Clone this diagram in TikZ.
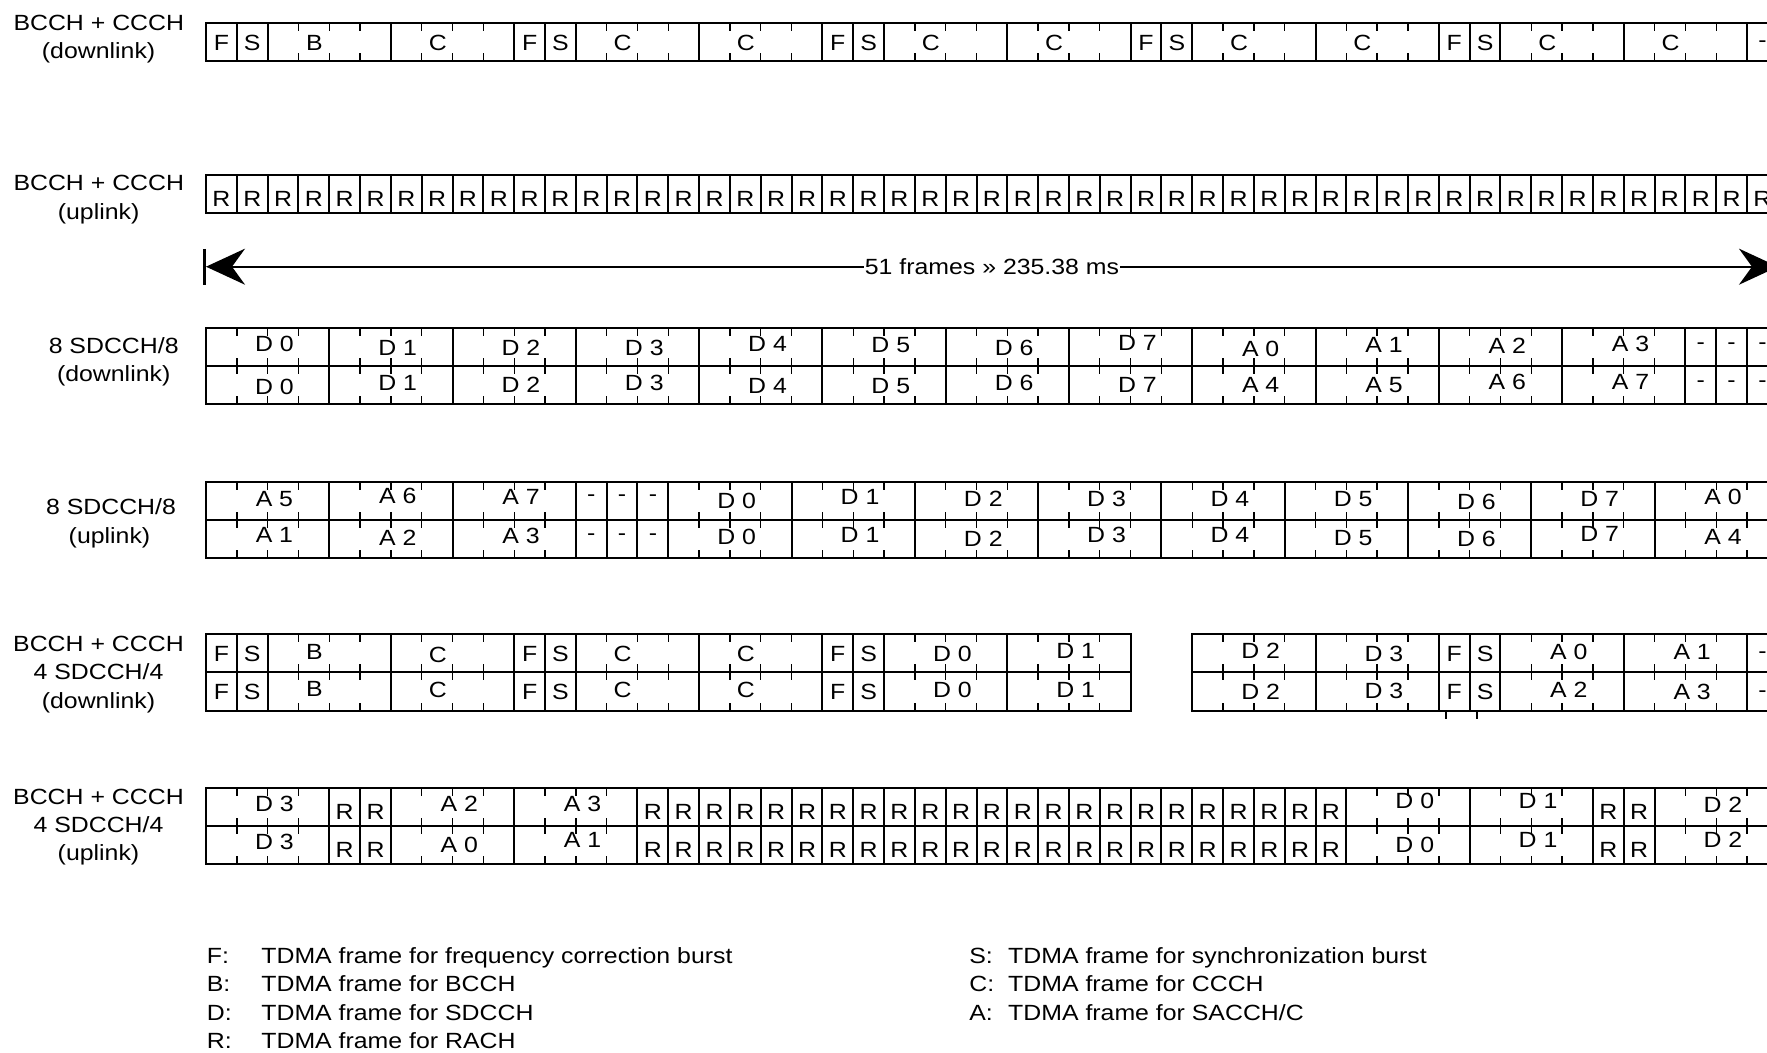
\documentclass[tikz,border=0pt]{standalone}
\usepackage{fontspec}
\setmainfont{Liberation Sans}
\usetikzlibrary{arrows.meta}
\newcounter{lbl}
\newcommand\hs[1]{\scalebox{1.13}[1]{#1}}
\def\frX{206}
\def\frW{30.82}
% single frame cell: top, bottom, frame, label, dy
\newcommand\cel[5]{%
  \draw[frm] ({\frX+(#3)*\frW},#1) -- ({\frX+(#3)*\frW},#2)
             ({\frX+(#3+1)*\frW},#1) -- ({\frX+(#3+1)*\frW},#2);
  \stepcounter{lbl}%
  \node[lab] (L\arabic{lbl}) at ({\frX+(#3+0.5)*\frW},{(#1+#2)/2+7.9+(#5)}) {\hs{#4}};}
% four-frame block: top, bottom, start, label, label pos, dy
\newcommand\blk[6]{%
  \draw[frm] ({\frX+(#3)*\frW},#1) -- ({\frX+(#3)*\frW},#2)
             ({\frX+(#3+4)*\frW},#1) -- ({\frX+(#3+4)*\frW},#2);
  \foreach \k in {1,2,3}{%
    \draw[tick] ({\frX+(#3+\k)*\frW},#1) -- ++(0,8)
                ({\frX+(#3+\k)*\frW},#2) -- ++(0,-8);}
  \stepcounter{lbl}%
  \node[lab] (L\arabic{lbl}) at ({\frX+(#3+#5)*\frW},{(#1+#2)/2+7.9+(#6)}) {\hs{#4}};}
\newcommand\bl[5]{\blk{#1}{#2}{#3}{#4}{2.22}{#5}}
\newcommand\bc[5]{\blk{#1}{#2}{#3}{#4}{1.52}{#5}}
\begin{document}
\begin{tikzpicture}[x=0.5pt,y=-0.5pt,
  frm/.style={line width=1pt},
  tick/.style={line width=0.7pt},
  lab/.style={anchor=base,inner sep=0pt,font=\fontsize{11}{13}\selectfont},
  leg/.style={anchor=base west,inner sep=0pt,font=\fontsize{11}{13}\selectfont}]
\useasboundingbox (0,0) rectangle (1767,1053);
\fill[white] (0,0) rectangle (1767,1053);
\clip (0,0) rectangle (1767,1053);

% ---------- left labels ----------
\node[lab] (t1a) at (98.8,30.7) {\hs{BCCH + CCCH}};
\node[lab] (t1b) at (98.6,59) {\hs{(downlink)}};
\node[lab] (t2a) at (98.8,191) {\hs{BCCH + CCCH}};
\node[lab] (t2b) at (98.6,219.3) {\hs{(uplink)}};
\node[lab] (t3a) at (113.7,353.3) {\hs{8 SDCCH/8}};
\node[lab] (t3b) at (113.7,381.6) {\hs{(downlink)}};
\node[lab] (t4a) at (111,515) {\hs{8 SDCCH/8}};
\node[lab] (t4b) at (109.5,543.3) {\hs{(uplink)}};
\node[lab] (t5a) at (98.5,651.5) {\hs{BCCH + CCCH}};
\node[lab] (t5b) at (98.5,679.8) {\hs{4 SDCCH/4}};
\node[lab] (t5c) at (98.5,708.1) {\hs{(downlink)}};
\node[lab] (t6a) at (98.5,804) {\hs{BCCH + CCCH}};
\node[lab] (t6b) at (98.5,832.3) {\hs{4 SDCCH/4}};
\node[lab] (t6c) at (98.5,860.6) {\hs{(uplink)}};

% ---------- row 1 ----------
\draw[frm] (\frX,23.5) rectangle ({\frX+51*\frW},61.5);
\cel{23.5}{61.5}{0}{F}{0}\cel{23.5}{61.5}{1}{S}{0}
\bc{23.5}{61.5}{2}{B}{0}\bc{23.5}{61.5}{6}{C}{0}
\foreach \g in {10,20,30,40}{%
  \cel{23.5}{61.5}{\g}{F}{0}\cel{23.5}{61.5}{\g+1}{S}{0}
  \bc{23.5}{61.5}{\g+2}{C}{0}\bc{23.5}{61.5}{\g+6}{C}{0}}
\cel{23.5}{61.5}{50}{-}{-3}

% ---------- row 2 ----------
\draw[frm] (\frX,175.5) rectangle ({\frX+51*\frW},213.5);
\foreach \f in {0,...,50}{\cel{175.5}{213.5}{\f}{R}{4}}

% ---------- arrow ----------
\coordinate (aL) at (206,266.7);
\coordinate (aR) at (1778,266.7);
\coordinate (bT) at (204,249);
\coordinate (bB) at (204,285);
\draw[line width=1pt,>={Stealth[length=19.5pt,width=18pt,inset=6.5pt]},<->] (aL) -- (aR);
\draw[line width=1.5pt] (bT) -- (bB);
\node[fill=white,inner xsep=0.5pt,inner ysep=0pt,font=\fontsize{11}{13}\selectfont] (arr) at (992,267) {\hs{51 frames » 235.38 ms}};

% ---------- row 3 ----------
\draw[frm] (\frX,328.5) rectangle ({\frX+51*\frW},404);
\draw[frm] (\frX,366.3) -- ({\frX+51*\frW},366.3);
\foreach \i/\dy in {0/-3.4,1/0.6,2/0.6,3/0,4/-4,5/-2.4,6/0,7/-5}{\bl{328.5}{366.3}{4*\i}{D \i}{\dy}}
\foreach \i/\dy in {0/1,1/-2.4,2/-1.7,3/-4}{\bl{328.5}{366.3}{32+4*\i}{A \i}{\dy}}
\foreach \f in {48,49,50}{\cel{328.5}{366.3}{\f}{-}{-6}}
\foreach \i/\dy in {0/1,1/-2.7,2/-1,3/-2.7,4/0,5/0,6/-3,7/-1}{\bl{366.3}{404}{4*\i}{D \i}{\dy}}
\foreach \i/\dy in {4/-1,5/-1,6/-4,7/-4}{\bl{366.3}{404}{16+4*\i}{A \i}{\dy}}
\foreach \f in {48,49,50}{\cel{366.3}{404}{\f}{-}{-6}}

% ---------- row 4 ----------
\draw[frm] (\frX,482) rectangle ({\frX+51*\frW},558);
\draw[frm] (\frX,520) -- ({\frX+51*\frW},520);
\bl{482}{520}{0}{A 5}{-2}\bl{482}{520}{4}{A 6}{-5}\bl{482}{520}{8}{A 7}{-4}
\foreach \f in {12,13,14}{\cel{482}{520}{\f}{-}{-7}}
\foreach \i/\dy in {0/0,1/-4.3,2/-2,3/-2,4/-2.7,5/-2.7,6/0.7,7/-2.7}{\bl{482}{520}{15+4*\i}{D \i}{\dy}}
\bl{482}{520}{47}{A 0}{-4.3}
\bl{520}{558}{0}{A 1}{-4}\bl{520}{558}{4}{A 2}{-1.5}\bl{520}{558}{8}{A 3}{-3}
\foreach \f in {12,13,14}{\cel{520}{558}{\f}{-}{-6.5}}
\foreach \i/\dy in {0/-2,1/-4,2/-0.7,3/-4,4/-4.3,5/-1.3,6/0,7/-5}{\bl{520}{558}{15+4*\i}{D \i}{\dy}}
\bl{520}{558}{47}{A 4}{-2.3}

% ---------- row 5 ----------
\draw[frm] (\frX,634) rectangle ({\frX+30*\frW},710.5);
\draw[frm] (\frX,672.3) -- ({\frX+30*\frW},672.3);
\draw[frm] ({\frX+32*\frW},634) rectangle ({\frX+51*\frW},710.5);
\draw[frm] ({\frX+32*\frW},672.3) -- ({\frX+51*\frW},672.3);
% upper
\cel{634}{672.3}{0}{F}{0}\cel{634}{672.3}{1}{S}{0}
\bc{634}{672.3}{2}{B}{-2}\bc{634}{672.3}{6}{C}{1}
\cel{634}{672.3}{10}{F}{0}\cel{634}{672.3}{11}{S}{0}
\bc{634}{672.3}{12}{C}{0}\bc{634}{672.3}{16}{C}{0}
\cel{634}{672.3}{20}{F}{0}\cel{634}{672.3}{21}{S}{0}
\bl{634}{672.3}{22}{D 0}{0}\bl{634}{672.3}{26}{D 1}{-3}
\bl{634}{672.3}{32}{D 2}{-3}\bl{634}{672.3}{36}{D 3}{0}
\cel{634}{672.3}{40}{F}{0}\cel{634}{672.3}{41}{S}{0}
\bl{634}{672.3}{42}{A 0}{-2}\bl{634}{672.3}{46}{A 1}{-2}
\cel{634}{672.3}{50}{-}{-2.5}
% lower
\cel{672.3}{710.5}{0}{F}{0}\cel{672.3}{710.5}{1}{S}{0}
\bc{672.3}{710.5}{2}{B}{-3}\bc{672.3}{710.5}{6}{C}{-2}
\cel{672.3}{710.5}{10}{F}{0}\cel{672.3}{710.5}{11}{S}{0}
\bc{672.3}{710.5}{12}{C}{-2}\bc{672.3}{710.5}{16}{C}{-2}
\cel{672.3}{710.5}{20}{F}{0}\cel{672.3}{710.5}{21}{S}{0}
\bl{672.3}{710.5}{22}{D 0}{-2}\bl{672.3}{710.5}{26}{D 1}{-2}
\bl{672.3}{710.5}{32}{D 2}{0}\bl{672.3}{710.5}{36}{D 3}{-1}
\cel{672.3}{710.5}{40}{F}{0}\cel{672.3}{710.5}{41}{S}{0}
\bl{672.3}{710.5}{42}{A 2}{-2}\bl{672.3}{710.5}{46}{A 3}{0}
\cel{672.3}{710.5}{50}{-}{-2}
\draw[tick] (1446,710.5) -- (1446,719) (1477,710.5) -- (1477,719);

% ---------- row 6 ----------
\draw[frm] (\frX,787.5) rectangle ({\frX+51*\frW},863.8);
\draw[frm] (\frX,825.8) -- ({\frX+51*\frW},825.8);
% upper
\bl{787.5}{825.8}{0}{D 3}{-3}
\cel{787.5}{825.8}{4}{R}{5}\cel{787.5}{825.8}{5}{R}{5}
\bl{787.5}{825.8}{6}{A 2}{-3}\bl{787.5}{825.8}{10}{A 3}{-3}
\foreach \f in {14,...,36}{\cel{787.5}{825.8}{\f}{R}{5}}
\bl{787.5}{825.8}{37}{D 0}{-5.6}\bl{787.5}{825.8}{41}{D 1}{-6}
\cel{787.5}{825.8}{45}{R}{5}\cel{787.5}{825.8}{46}{R}{5}
\bl{787.5}{825.8}{47}{D 2}{-1.6}
% lower
\bl{825.8}{863.8}{0}{D 3}{-3}
\cel{825.8}{863.8}{4}{R}{5}\cel{825.8}{863.8}{5}{R}{5}
\bl{825.8}{863.8}{6}{A 0}{0}\bl{825.8}{863.8}{10}{A 1}{-5}
\foreach \f in {14,...,36}{\cel{825.8}{863.8}{\f}{R}{5}}
\bl{825.8}{863.8}{37}{D 0}{0}\bl{825.8}{863.8}{41}{D 1}{-5}
\cel{825.8}{863.8}{45}{R}{5}\cel{825.8}{863.8}{46}{R}{5}
\bl{825.8}{863.8}{47}{D 2}{-5}

% ---------- legend ----------
\node[leg] (kF) at (206.5,963) {\hs{F:}};
\node[leg] (vF) at (261,963) {\hs{TDMA frame for frequency correction burst}};
\node[leg] (kB) at (206.5,991.5) {\hs{B:}};
\node[leg] (vB) at (261,991.5) {\hs{TDMA frame for BCCH}};
\node[leg] (kD) at (206.5,1020) {\hs{D:}};
\node[leg] (vD) at (261,1020) {\hs{TDMA frame for SDCCH}};
\node[leg] (kR) at (206.5,1048.5) {\hs{R:}};
\node[leg] (vR) at (261,1048.5) {\hs{TDMA frame for RACH}};
\node[leg] (kS) at (969,963) {\hs{S:}};
\node[leg] (vS) at (1007.8,963) {\hs{TDMA frame for synchronization burst}};
\node[leg] (kC) at (969,991.5) {\hs{C:}};
\node[leg] (vC) at (1007.8,991.5) {\hs{TDMA frame for CCCH}};
\node[leg] (kA) at (969,1020) {\hs{A:}};
\node[leg] (vA) at (1007.8,1020) {\hs{TDMA frame for SACCH/C}};
\end{tikzpicture}
\end{document}
